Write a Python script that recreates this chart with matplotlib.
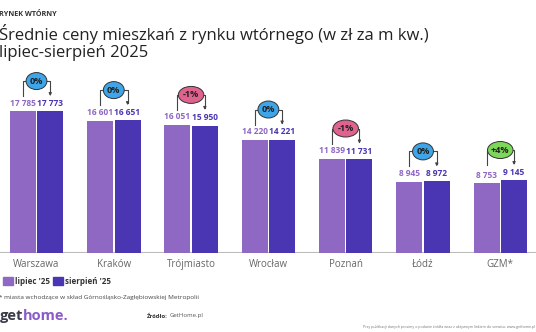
import matplotlib
matplotlib.use("Agg")
import matplotlib.pyplot as plt
from matplotlib.patches import Ellipse, Rectangle
import numpy as np

cities = ["Warszawa", "Kraków", "Trójmiasto", "Wrocław", "Poznań", "Łódź", "GZM*"]
lipiec = [17785, 16601, 16051, 14220, 11839, 8945, 8753]
sierpien = [17773, 16651, 15950, 14221, 11731, 8972, 9145]
changes = ["0%", "0%", "-1%", "0%", "-1%", "0%", "+4%"]

c_jul = "#8E68C2"
c_aug = "#4A35B2"
badge_colors = {"0": "#3DA5E8", "-": "#E0628E", "+": "#7ED65A"}

plt.rcParams["font.family"] = ["Open Sans", "DejaVu Sans"]

fig = plt.figure(figsize=(5.36, 3.32), dpi=100)
ax = fig.add_axes([0, 79 / 332, 1, 183 / 332])

x = np.arange(len(cities))
off = 0.178
w = 0.336
ax.bar(x - off, lipiec, w, color=c_jul)
ax.bar(x + off, sierpien, w, color=c_aug)

ax.set_xlim(-0.472, 6.462)
ax.set_ylim(0, 22930)
px = 22930 / 183  # data units per pixel vertically

def fmt(v):
    return f"{v:,}".replace(",", " ")

for i in range(len(cities)):
    ax.text(x[i] - off, lipiec[i] + 8 * px, fmt(lipiec[i]), ha="center", va="center",
            fontsize=6.0, fontweight="bold", color=c_jul)
    ax.text(x[i] + off, sierpien[i] + 8 * px, fmt(sierpien[i]), ha="center", va="center",
            fontsize=6.0, fontweight="bold", color=c_aug)

    top = max(lipiec[i], sierpien[i])
    y_badge = top + 30 * px
    y_end = top + 15 * px
    ax.plot([x[i] - off, x[i] - off, x[i] + off, x[i] + off],
            [y_end, y_badge, y_badge, y_end + 2 * px], color="#444444", lw=0.8)
    ax.annotate("", xy=(x[i] + off, y_end), xytext=(x[i] + off, y_end + 3 * px),
                arrowprops=dict(arrowstyle="-|>", color="#444444", lw=0.8,
                                mutation_scale=4, shrinkA=0, shrinkB=0))
    key = changes[i][0] if changes[i][0] in "+-" else "0"
    bw = 0.33 if len(changes[i]) > 2 else 0.27
    ax.add_patch(Ellipse((x[i], y_badge), bw, 17 * px, facecolor=badge_colors[key],
                         edgecolor="#333333", lw=0.7, zorder=3))
    ax.text(x[i], y_badge, changes[i], ha="center", va="center", fontsize=6.6,
            fontweight="bold", color="#222222", zorder=4)

ax.axhline(0, color="#BBBBBB", lw=1.5, zorder=0)
for s in ax.spines.values():
    s.set_visible(False)
ax.set_yticks([])
ax.set_xticks(x)
ax.set_xticklabels(cities, fontsize=7, color="#666666")
ax.tick_params(axis="x", length=0, pad=4)

# headings
fig.text(-0.002, 1 - 14 / 332, "RYNEK WTÓRNY", fontsize=5.2, fontweight="bold",
         color="#333333", va="center")
fig.text(-0.002, 1 - 34 / 332, "Średnie ceny mieszkań z rynku wtórnego (w zł za m kw.)",
         fontsize=12, color="#222222", va="center")
fig.text(-0.002, 1 - 53 / 332, "lipiec-sierpień 2025", fontsize=12,
         color="#222222", va="center")

# legend
fig.patches.append(Rectangle((3 / 536, 1 - 285 / 332), 10 / 536, 8 / 332,
                             transform=fig.transFigure, color=c_jul))
fig.text(15 / 536, 1 - 281 / 332, "lipiec '25", fontsize=5.8, fontweight="bold",
         color="#333333", va="center")
fig.patches.append(Rectangle((53 / 536, 1 - 285 / 332), 10 / 536, 8 / 332,
                             transform=fig.transFigure, color=c_aug))
fig.text(65 / 536, 1 - 281 / 332, "sierpień '25", fontsize=5.8, fontweight="bold",
         color="#333333", va="center")

fig.text(-0.002, 1 - 298 / 332,
         "* miasta wchodzące w skład Górnośląsko-Zagłębiowskiej Metropolii",
         fontsize=4.6, color="#444444", va="center")

# logo and source
logo = fig.text(0, 1 - 316 / 332, "get", fontsize=10.5, fontweight="bold",
                color="#3A3A4A", va="center")
fig.canvas.draw()
bb = logo.get_window_extent()
fig.text((bb.x1 - 0.5) / 536, 1 - 316 / 332, "home.", fontsize=10.5, fontweight="bold",
         color="#8A5CC8", va="center")
src = fig.text(147 / 536, 1 - 316 / 332, "Źródło:", fontsize=4.3, fontweight="bold",
               color="#333333", va="center")
fig.canvas.draw()
bb = src.get_window_extent()
fig.text(bb.x1 / 536 + 0.003, 1 - 316 / 332, "GetHome.pl", fontsize=4.3,
         color="#555555", va="center")

fig.text(0.999, 1 - 327 / 332,
         "Przy publikacji danych prosimy o podanie źródła wraz z aktywnym linkiem do serwisu: www.gethome.pl",
         fontsize=2.6, color="#777777", va="center", ha="right")

fig.savefig("out.png", dpi=100)
